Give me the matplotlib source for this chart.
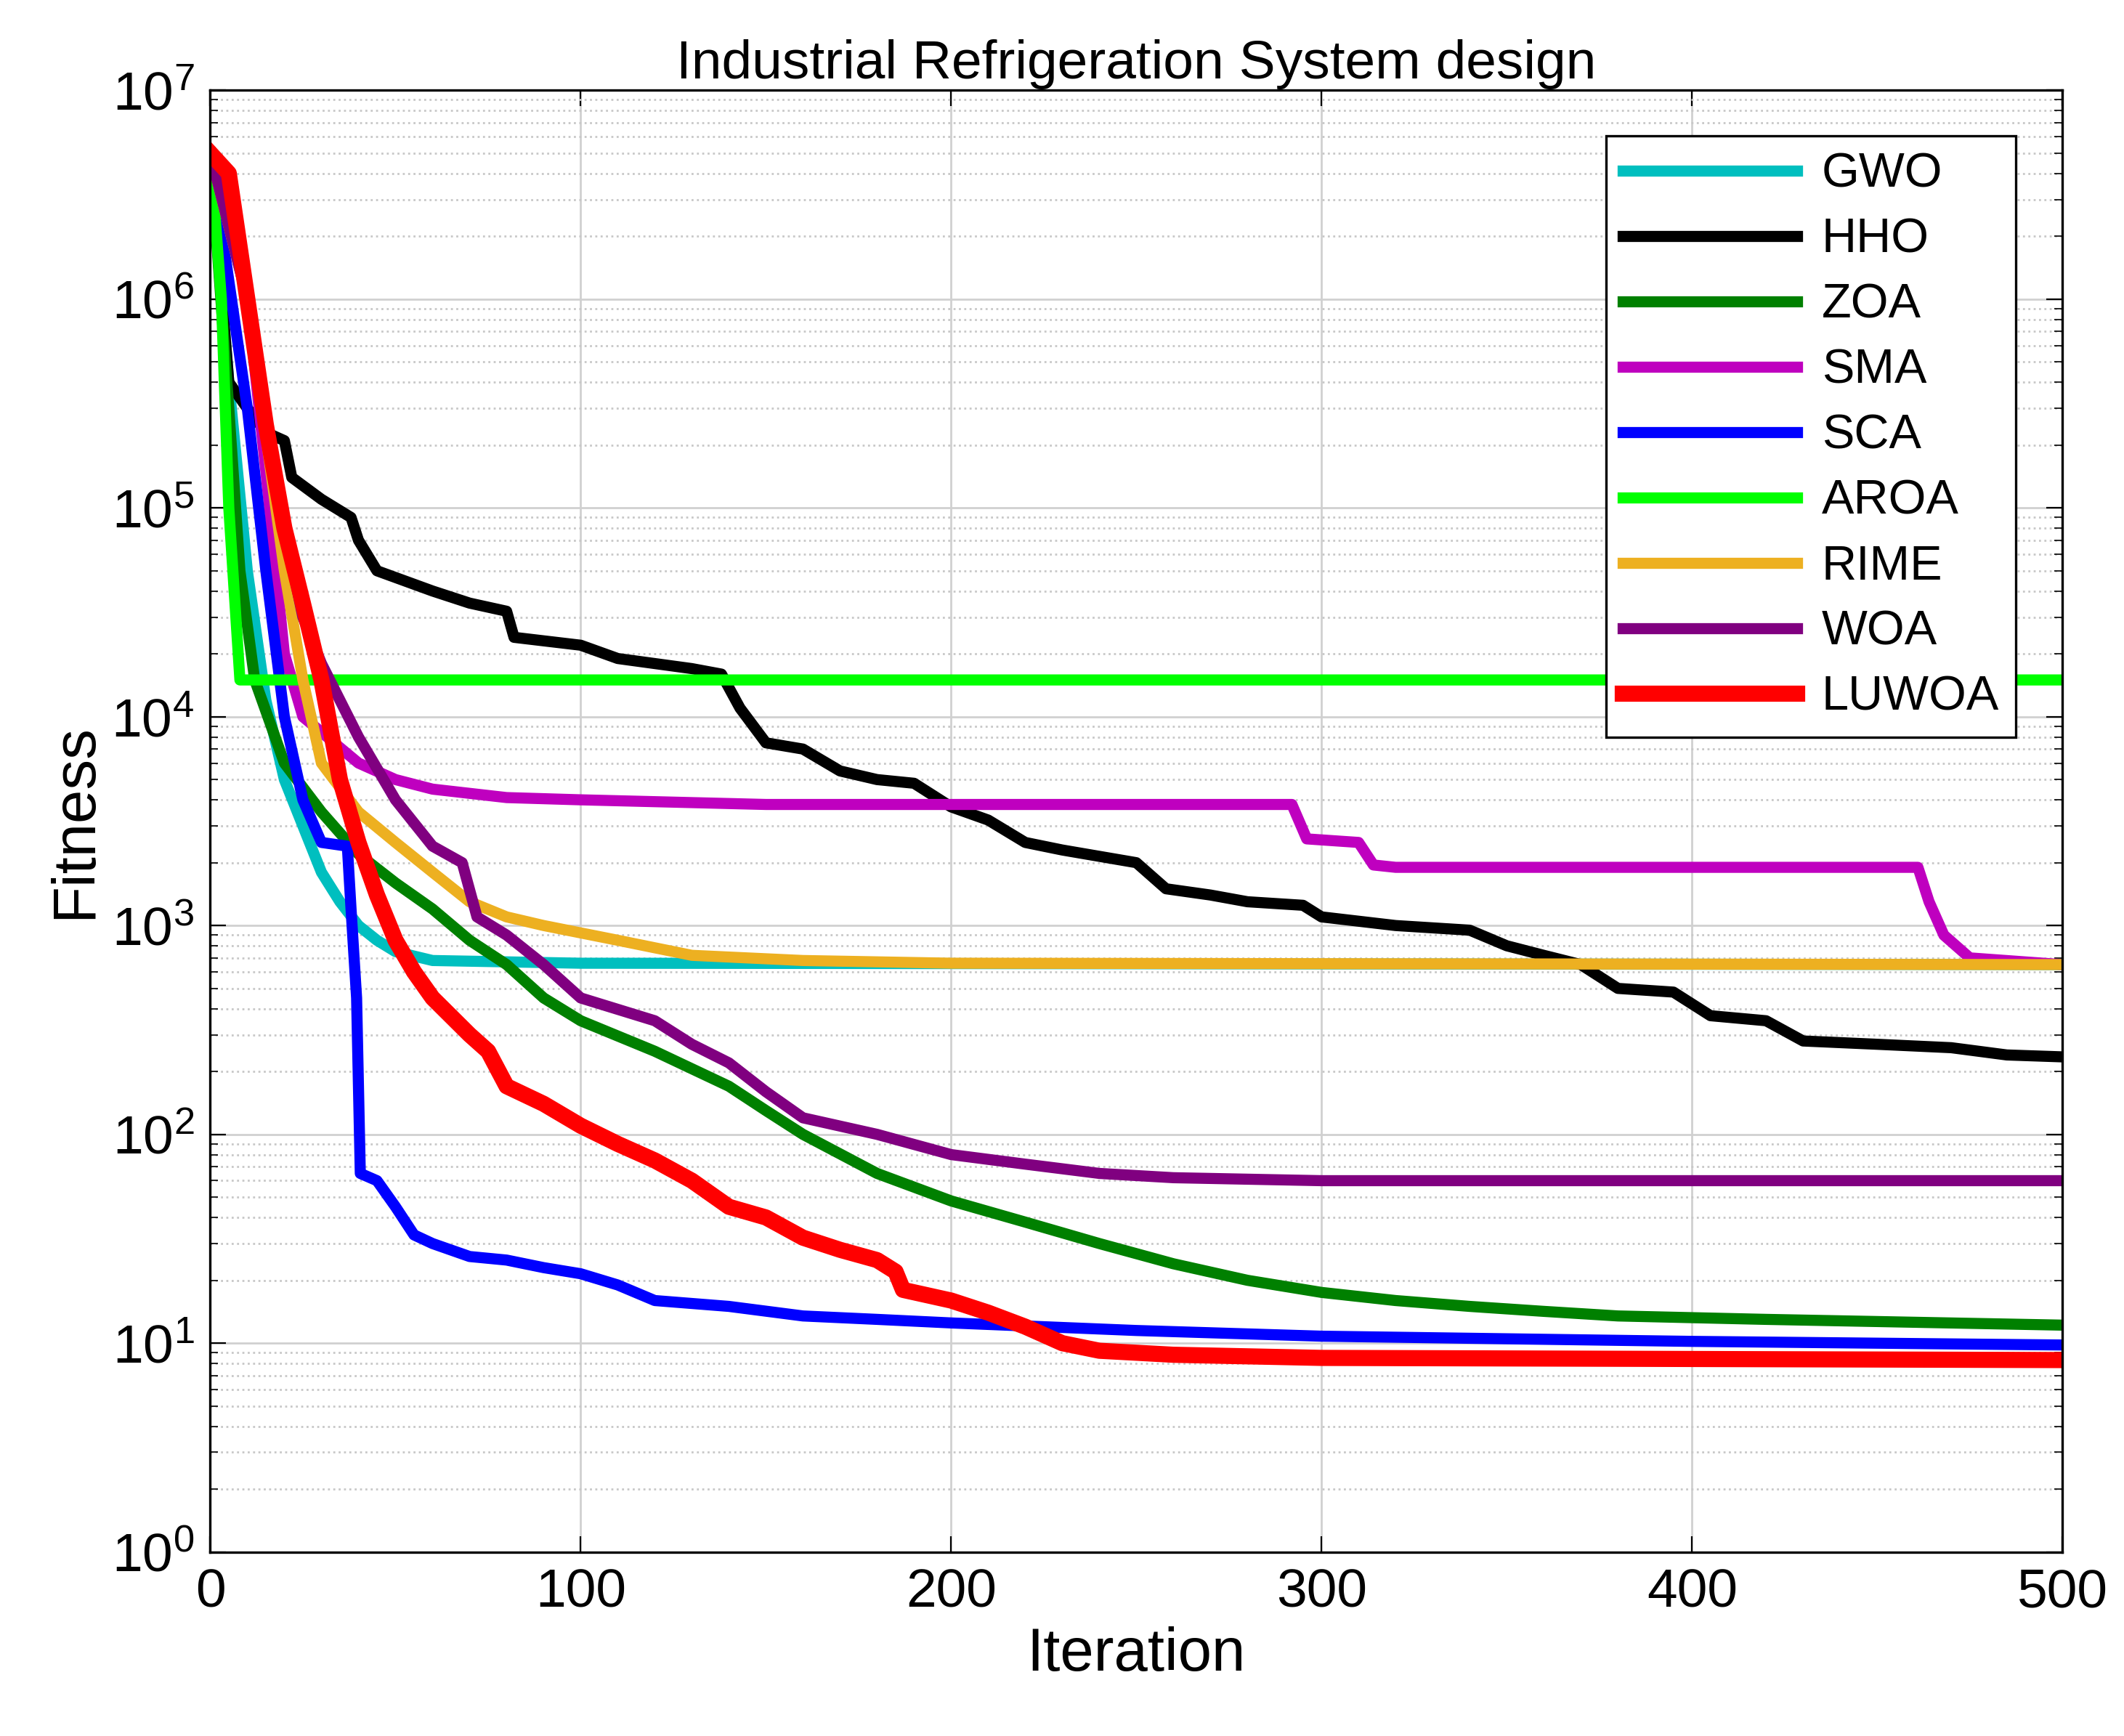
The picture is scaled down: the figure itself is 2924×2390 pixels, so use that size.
import matplotlib.pyplot as plt
import numpy as np

# points (iteration, fitness)
gwo_it = [0, 5, 10, 15, 20, 25, 30, 35, 40, 45, 50, 60, 100, 500]
gwo_val = [5e6, 4e5, 5e4, 1.2e4, 5e3, 3e3, 1.8e3, 1.3e3, 1e3, 850, 750, 680, 660, 650]

hho_it = [0, 5, 10, 15, 20, 22, 30, 38, 40, 45, 60, 70, 80, 82, 100, 110, 130, 138, 143, 150,
          160, 170, 180, 190, 200, 210, 220, 230, 250, 258, 270, 280, 295, 300, 320, 340, 350,
          360, 370, 380, 395, 405, 420, 430, 450, 470, 485, 500]
hho_val = [5e6, 4e5, 3e5, 2.3e5, 2.1e5, 1.4e5, 1.1e5, 9e4, 7e4, 5e4, 4e4, 3.5e4, 3.2e4, 2.4e4,
           2.2e4, 1.9e4, 1.7e4, 1.6e4, 1.1e4, 7.5e3, 7e3, 5.5e3, 5e3, 4.8e3, 3.7e3, 3.2e3, 2.5e3,
           2.3e3, 2.0e3, 1.5e3, 1.4e3, 1.3e3, 1.25e3, 1.1e3, 1.0e3, 950, 800, 720, 650, 500, 480,
           370, 350, 280, 270, 260, 240, 235]

zoa_it = [0, 5, 8, 12, 20, 30, 40, 50, 60, 70, 80, 90, 100, 120, 140, 150, 160, 180, 200, 220,
          240, 260, 280, 300, 320, 340, 360, 380, 420, 500]
zoa_val = [5e6, 3e5, 5e4, 1.5e4, 6e3, 3.5e3, 2.2e3, 1.6e3, 1.2e3, 850, 650, 450, 350, 250, 170,
           130, 100, 65, 48, 38, 30, 24, 20, 17.5, 16, 15, 14.2, 13.5, 13, 12.2]

sma_it = [0, 10, 15, 20, 25, 40, 50, 60, 80, 100, 150, 292, 296, 310, 314, 320, 461, 464, 468, 475, 500]
sma_val = [5e6, 1e6, 1.5e5, 2e4, 1e4, 6e3, 5e3, 4.5e3, 4.1e3, 4e3, 3.8e3, 3.8e3, 2.6e3, 2.5e3,
           1.95e3, 1.9e3, 1.9e3, 1.3e3, 900, 700, 650]

sca_it = [0, 10, 15, 20, 25, 30, 37, 38, 39.5, 40.5, 45, 50, 55, 60, 70, 80, 90, 100, 110, 120,
          140, 160, 180, 200, 250, 300, 400, 500]
sca_val = [5e6, 3e5, 5e4, 1e4, 4e3, 2.5e3, 2.4e3, 1.2e3, 450, 65, 60, 45, 33, 30, 26, 25, 23,
           21.5, 19, 16, 15, 13.5, 13, 12.5, 11.5, 10.8, 10.2, 9.8]

aroa_it = [0, 3, 5, 8, 500]
aroa_val = [5e6, 1e6, 1e5, 1.5e4, 1.5e4]

rime_it = [0, 10, 20, 25, 30, 40, 50, 60, 70, 80, 90, 110, 130, 160, 200, 500]
rime_val = [5e6, 1e6, 5e4, 1.5e4, 6e3, 3.5e3, 2.5e3, 1.8e3, 1.3e3, 1.1e3, 1e3, 850, 720, 680, 660, 650]

woa_it = [0, 10, 20, 25, 30, 40, 50, 60, 68, 72, 80, 90, 100, 120, 130, 140, 150, 160, 180, 200,
          220, 240, 260, 300, 500]
woa_val = [5e6, 1e6, 8e4, 3e4, 1.8e4, 8e3, 4e3, 2.4e3, 2e3, 1.1e3, 900, 650, 450, 350, 270, 220,
           160, 120, 100, 80, 72, 65, 62, 60, 60]

luwoa_it = [0, 5, 10, 15, 20, 25, 30, 35, 40, 45, 50, 55, 60, 70, 75, 80, 90, 100, 110, 120, 130,
            140, 150, 160, 170, 180, 185, 187, 200, 210, 220, 230, 240, 260, 300, 500]
luwoa_val = [5e6, 4e6, 1e6, 2.5e5, 8e4, 3.5e4, 1.5e4, 5e3, 2.5e3, 1.4e3, 850, 600, 450, 300, 250,
             170, 140, 110, 90, 75, 60, 45, 40, 32, 28, 25, 22, 18, 16, 14, 12, 10, 9.2, 8.8, 8.5, 8.3]

series = [
    ("GWO", gwo_it, gwo_val, (0, 0.75, 0.75), 5.5),
    ("HHO", hho_it, hho_val, "k", 5.5),
    ("ZOA", zoa_it, zoa_val, (0, 0.5, 0), 5.5),
    ("SMA", sma_it, sma_val, (0.75, 0, 0.75), 5.5),
    ("SCA", sca_it, sca_val, "b", 5.5),
    ("AROA", aroa_it, aroa_val, (0, 1, 0), 5.5),
    ("RIME", rime_it, rime_val, (0.93, 0.69, 0.13), 5.5),
    ("WOA", woa_it, woa_val, (0.5, 0, 0.5), 5.5),
    ("LUWOA", luwoa_it, luwoa_val, "r", 8),
]

plt.rcParams["font.family"] = "Liberation Sans"
fig = plt.figure(figsize=(14.62, 11.95), dpi=200)
ax = fig.add_axes([0.099, 0.106, 0.872, 0.842])

for nom, it, val, c, lw in series:
    ax.semilogy(it, val, color=c, linewidth=lw, label=nom)

ax.set_xlim(0, 500)
ax.set_ylim(1, 1e7)
ax.set_yticks([10.0 ** k for k in range(8)])
ax.grid(which="major", color="#d0d0d0", linestyle="-", linewidth=1)
ax.grid(which="minor", axis="y", color="#c8c8c8", linestyle=":", linewidth=1)
ax.tick_params(which="both", direction="in", top=True, right=True, labelsize=27)
ax.tick_params(which="major", length=8, pad=8)
ax.tick_params(which="minor", length=4)
for s in ax.spines.values():
    s.set_linewidth(1.2)

ax.set_xlabel("Iteration", fontsize=30)
ax.set_ylabel("Fitness", fontsize=30)
ax.set_title("Industrial Refrigeration System design", fontsize=27)

leg = ax.legend(loc="upper right", bbox_to_anchor=(0.975, 0.969), borderaxespad=0,
                fontsize=24, handlelength=3.6, fancybox=False, framealpha=1, edgecolor="k",
                labelspacing=0.42, borderpad=0.35, handletextpad=0.5)
leg.get_frame().set_linewidth(1.2)

fig.savefig("out.png", dpi=200)
